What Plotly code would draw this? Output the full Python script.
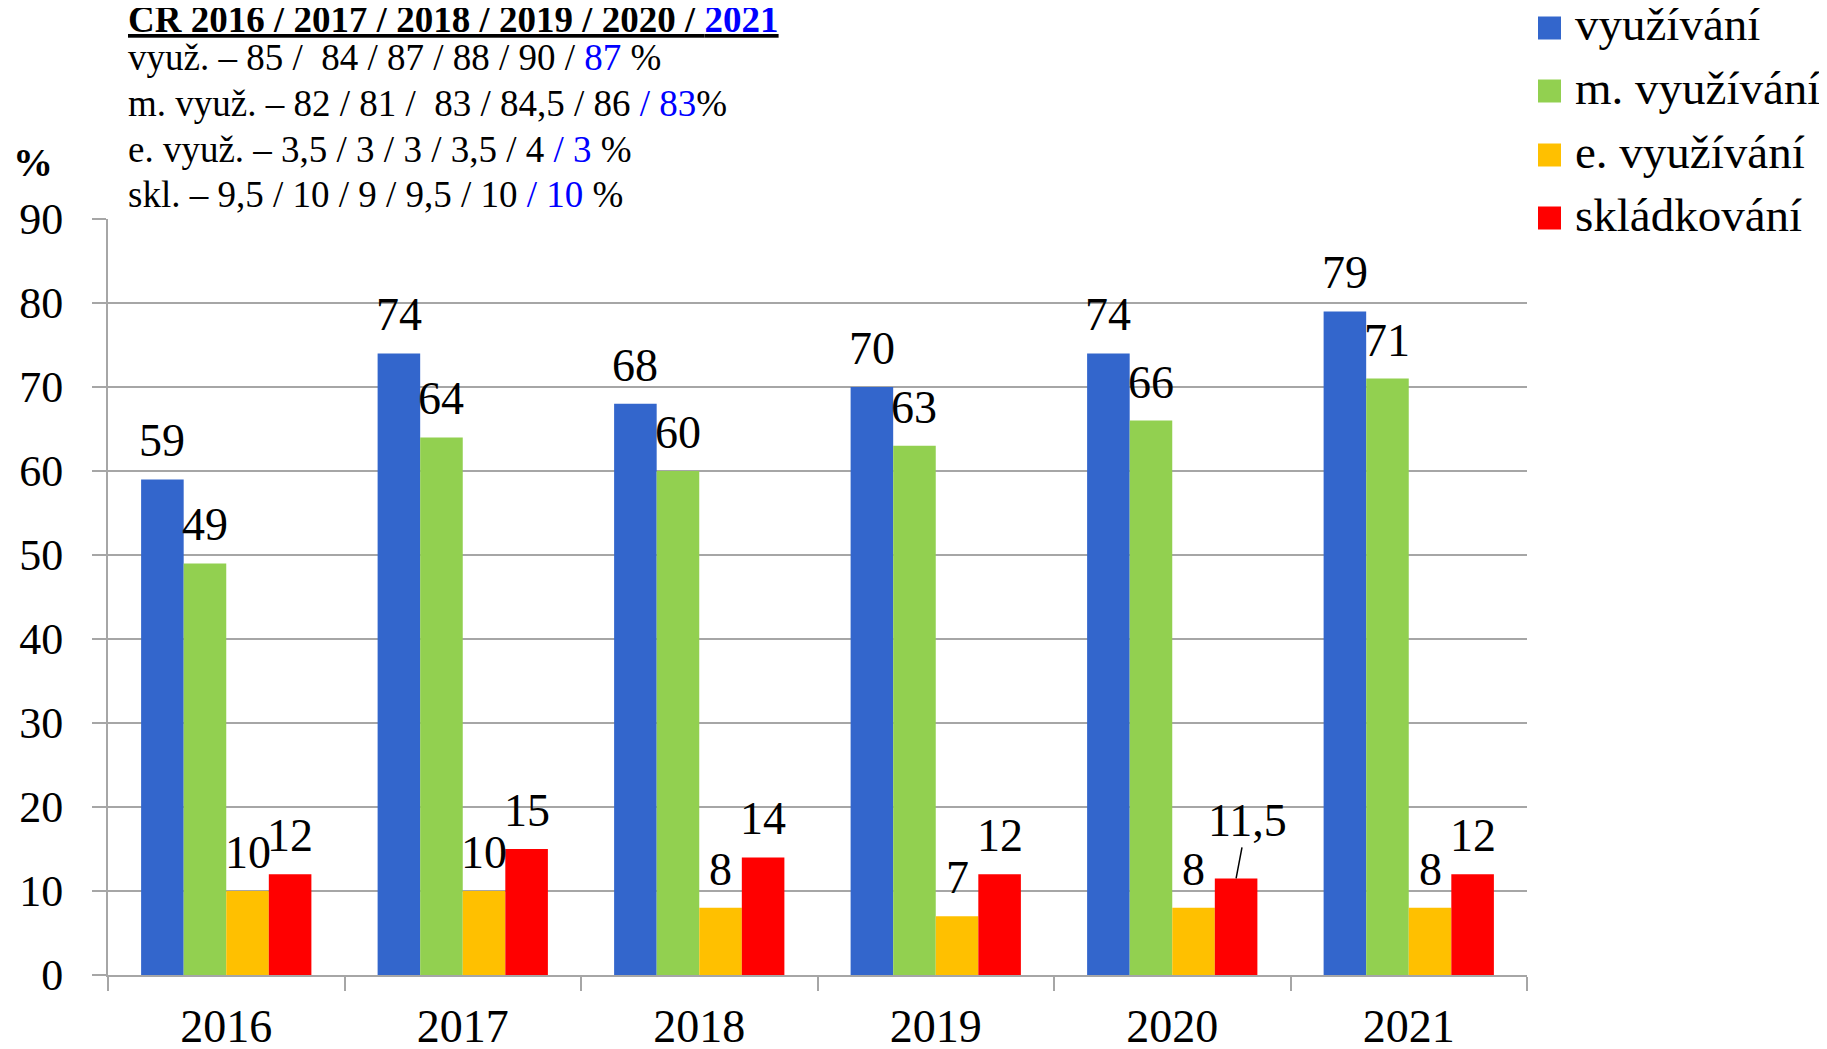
import plotly.graph_objects as go

# ---- data ----
years = ["2016", "2017", "2018", "2019", "2020", "2021"]
vyuzivani = [59, 74, 68, 70, 74, 79]
m_vyuzivani = [49, 64, 60, 63, 66, 71]
e_vyuzivani = [10, 10, 8, 7, 8, 8]
skladkovani = [12, 15, 14, 12, 11.5, 12]
series_names = ["využívání", "m. využívání", "e. využívání", "skládkování"]
y_ticks = [0, 10, 20, 30, 40, 50, 60, 70, 80, 90]

title_line = ("<b><u>CR 2016 / 2017 / 2018 / 2019 / 2020 / "
              "<span style='color:#0000FF'>2021</span></u></b>")
info_lines = [
    "využ. – 85 /\u00a0 84 / 87 / 88 / 90 / <span style='color:#0000FF'>87</span> %",
    "m. využ. – 82 / 81 /\u00a0 83 / 84,5 / 86 <span style='color:#0000FF'>/ 83</span>%",
    "e. využ. – 3,5 / 3 / 3 / 3,5 / 4 <span style='color:#0000FF'>/ 3</span> %",
    "skl. – 9,5 / 10 / 9 / 9,5 / 10 <span style='color:#0000FF'>/ 10</span> %",
]

colors = ["#3366CC", "#92D050", "#FFC000", "#FF0000"]
series = [vyuzivani, m_vyuzivani, e_vyuzivani, skladkovani]

OFF = 8  # page body margin
W, H = 1827 - OFF, 1049 - OFF
L, R, T, B = 100, 300, 211, 74
PW, PH = W - L - R, H - T - B
FONT = "Liberation Serif, Times New Roman, serif"
GRID = "#A6A6A6"
BARGAP = 0.28


def px(xp):
    return (xp - OFF - L) / PW


def py(yp):
    return (H - B - (yp - OFF)) / PH


fig = go.Figure()
for name, vals, col in zip(series_names, series, colors):
    fig.add_trace(go.Bar(x=years, y=vals, name=name, marker_color=col,
                         marker_line_width=0, showlegend=False))

annotations = []
w = (1 - BARGAP) / len(series)
for k, vals in enumerate(series):
    for i, v in enumerate(vals):
        xc = i - (1 - BARGAP) / 2 + (k + 0.5) * w
        label = ("%g" % v).replace(".", ",")
        if v != int(v):
            annotations.append(dict(
                x=xc, y=v, xref="x", yref="y", text=label, showarrow=True,
                arrowhead=0, arrowwidth=1.5, arrowcolor="black",
                ax=11, ay=-58, standoff=0,
                font=dict(family=FONT, size=46, color="black")))
        else:
            annotations.append(dict(
                x=xc, y=v, xref="x", yref="y", text=label, showarrow=False,
                yanchor="bottom", yshift=11,
                font=dict(family=FONT, size=46, color="black")))

# header texts
annotations.append(dict(x=px(126), y=py(20), xref="paper", yref="paper",
                        text=title_line, showarrow=False, xanchor="left",
                        yanchor="middle",
                        font=dict(family=FONT, size=37, color="black")))
for j, line in enumerate(info_lines):
    annotations.append(dict(x=px(126), y=py(58 + j * 45.5), xref="paper",
                            yref="paper", text=line, showarrow=False,
                            xanchor="left", yanchor="middle",
                            font=dict(family=FONT, size=37, color="black")))
annotations.append(dict(x=px(33), y=py(163), xref="paper", yref="paper",
                        text="<b>%</b>", showarrow=False, xanchor="center",
                        yanchor="middle",
                        font=dict(family=FONT, size=40, color="black")))

# custom legend
shapes = []
leg_rows = [28, 91, 155, 218]
for name, col, yc in zip(series_names, colors, leg_rows):
    shapes.append(dict(type="rect", xref="paper", yref="paper",
                       x0=px(1538), x1=px(1561), y0=py(yc - 11.5), y1=py(yc + 11.5),
                       fillcolor=col, line_width=0))
    annotations.append(dict(x=px(1573), y=py(yc - 3.5), xref="paper", yref="paper",
                            text=name, showarrow=False, xanchor="left",
                            yanchor="middle",
                            font=dict(family=FONT, size=47, color="black")))

fig.update_layout(
    width=W, height=H, autosize=False,
    margin=dict(l=L, r=R, t=T, b=B, pad=0),
    paper_bgcolor="white", plot_bgcolor="white",
    barmode="group", bargap=BARGAP, bargroupgap=0,
    annotations=annotations, shapes=shapes,
    showlegend=False,
)
fig.update_xaxes(type="category", tickson="boundaries", ticks="outside",
                 ticklen=14, tickwidth=2, tickcolor=GRID, showline=True,
                 linecolor=GRID, linewidth=2, showgrid=False, automargin=False,
                 tickfont=dict(family=FONT, size=46, color="black"),
                 ticklabelstandoff=10)
fig.update_yaxes(range=[0, 90], tickvals=y_ticks, ticks="outside", ticklen=14,
                 tickwidth=2, tickcolor=GRID, showline=True, linecolor=GRID,
                 linewidth=2, showgrid=True, gridcolor=GRID, gridwidth=2,
                 zeroline=False, automargin=False,
                 tickfont=dict(family=FONT, size=44, color="black"),
                 ticklabelstandoff=20)

fig.write_html("out.html")
